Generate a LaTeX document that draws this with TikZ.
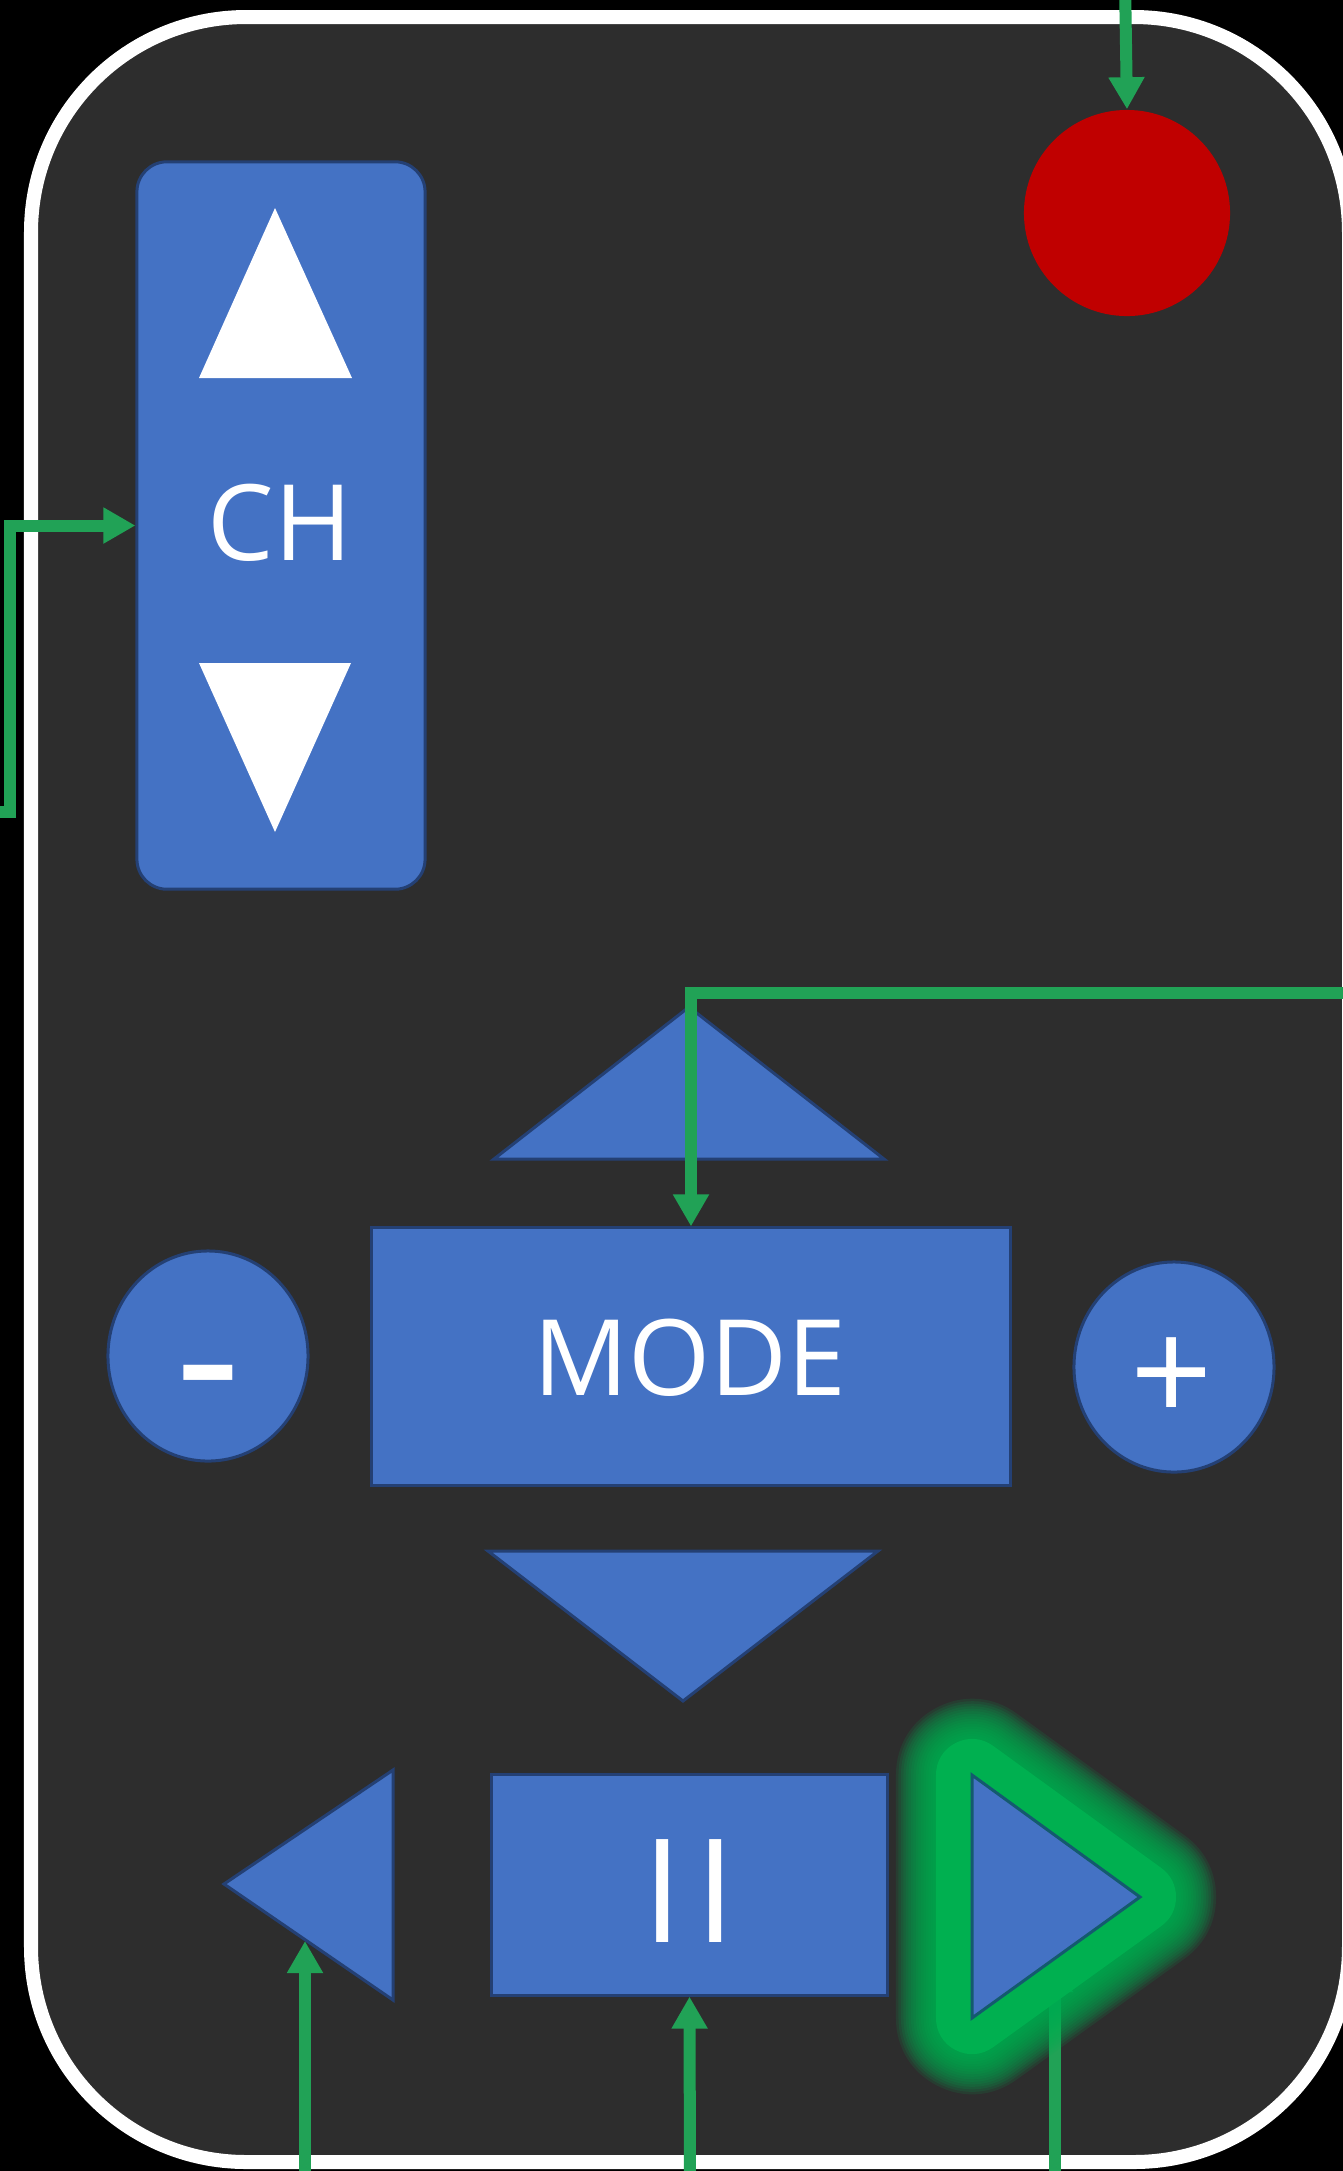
\documentclass[tikz,border=0pt]{standalone}
\usepackage{fontspec}
\setmainfont{Open Sans}
\usetikzlibrary{arrows.meta,shapes.geometric}
\definecolor{bodybg}{RGB}{45,45,45}
\definecolor{btn}{RGB}{68,114,196}
\definecolor{btnedge}{RGB}{36,64,116}
\definecolor{wire}{RGB}{33,162,86}
\definecolor{glowc}{RGB}{0,176,80}
\definecolor{redbtn}{RGB}{192,0,0}
\begin{document}
\begin{tikzpicture}[x=0.01cm,y=-0.01cm,
  btnshape/.style={fill=btn, draw=btnedge, line width=0.03cm},
  wirearrow/.style={draw=wire, line width=0.12cm, -{Triangle[length=0.32cm,width=0.34cm]}},
  btnlabel/.style={text=white, font=\fontsize{30}{36}\selectfont, inner sep=0pt},
]
\useasboundingbox (0,0) rectangle (1343,2171);
\clip (0,0) rectangle (1343,2171);
\fill[black] (0,0) rectangle (1343,2171);
% remote body
\draw[fill=bodybg, draw=white, line width=0.14cm, rounded corners=2.15cm] (31,17) rectangle (1349,2162);

% CH rocker
\node[btnshape, rounded corners=0.3cm, minimum width=2.88cm, minimum height=7.27cm, inner sep=0pt] (ch) at (281,525.5) {};
\fill[white] (275,208) -- (352,378) -- (199,378) -- cycle;
\fill[white] (199,663) -- (351,663) -- (275,832) -- cycle;
\node[btnlabel] (chtext) at (280,523) {CH};

% power button
\node[circle, fill=redbtn, minimum size=2.06cm, inner sep=0pt] (power) at (1127,213) {};

% navigation cluster
\coordinate (upA) at (689,1007);
\fill[btnshape] (upA) -- (884,1159) -- (494,1159) -- cycle;
\node[btnshape, minimum width=6.38cm, minimum height=2.57cm, inner sep=0pt] (mode) at (691,1356.5) {};
\node[btnlabel] (modetext) at (690,1357.5) {MODE};
\node[btnshape, ellipse, minimum width=2.0cm, minimum height=2.1cm, inner sep=0pt] (minus) at (208,1356) {};
\node[text=white, font=\fontsize{58}{58}\selectfont, inner sep=0pt] (minustext) at (208,1396) {-};
\node[btnshape, ellipse, minimum width=2.0cm, minimum height=2.1cm, inner sep=0pt] (plus) at (1174,1367) {};
\node[text=white, font=\fontsize{41}{41}\selectfont, inner sep=0pt] (plustext) at (1172,1381) {+};
\fill[btnshape] (488,1551) -- (878,1551) -- (683,1701) -- cycle;

% transport row
\fill[btnshape] (224,1884) -- (393,1770) -- (393,2000) -- cycle;
\node[btnshape, minimum width=3.95cm, minimum height=2.2cm, inner sep=0pt] (pause) at (689.5,1885) {};
\node[text=white, font=\fontsize{41}{41}\selectfont, inner sep=0pt] (pausetext) at (689,1891.5) {I\kern3.6pt I};

% connectors
\coordinate (powerIn) at (1125,-20);
\draw[wirearrow] (powerIn) -- (power.north);

\coordinate (chIn) at (-20,812);
\coordinate (chBend) at (10,812);
\draw[wirearrow] (chIn) -- (chBend) |- (ch.west);

\coordinate (modeIn) at (1380,993);
\draw[wirearrow] (modeIn) -| (mode.north);

\coordinate (leftIn) at (305,2190);
\coordinate (leftHit) at (305,1941);
\draw[wirearrow] (leftIn) -- (leftHit);

\coordinate (pauseIn) at (690,2190);
\draw[wirearrow] (pauseIn) -- (pause.south);

\coordinate (rightIn) at (1055,2190);
\coordinate (rightHit) at (1055,1960);
\draw[wirearrow] (rightIn) -- (rightHit);

% highlighted play button with soft glow
\coordinate (rtA) at (972,1775);
\coordinate (rtB) at (1140,1897);
\coordinate (rtC) at (972,2018);
\foreach \w in {1.52,1.47,1.42,1.37,1.32,1.27,1.22,1.17,1.12,1.07,1.02,0.97,0.92,0.87,0.82,0.78} {
  \draw[glowc, opacity=0.13, line width=\w cm, line join=round] (rtA) -- (rtB) -- (rtC) -- cycle;
}
\draw[glowc, line width=0.72cm, line join=round] (rtA) -- (rtB) -- (rtC) -- cycle;
\fill[btn, draw={rgb,255:red,20;green,90;blue,110}, line width=0.03cm] (rtA) -- (rtB) -- (rtC) -- cycle;
\end{tikzpicture}
\end{document}
